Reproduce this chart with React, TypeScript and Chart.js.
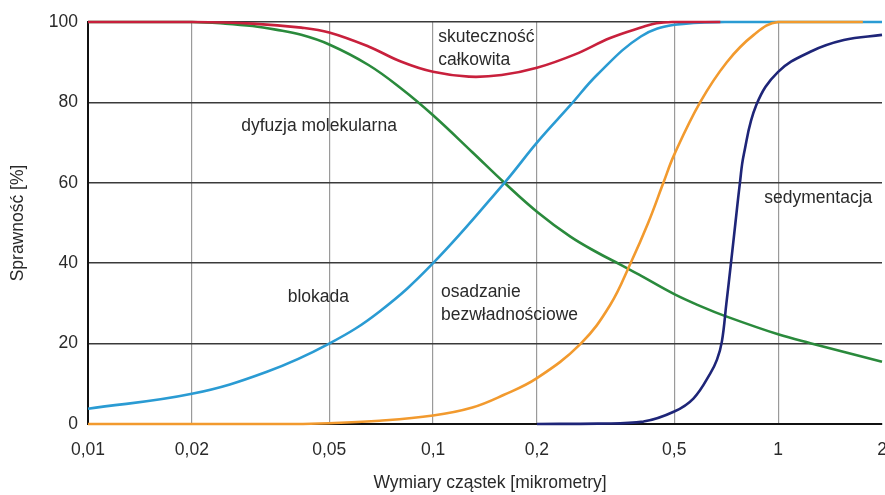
import React, { useEffect, useRef } from "react";
import { Chart, registerables } from "chart.js";

Chart.register(...registerables);

// ---- data ----
const xTicks = [0.01, 0.02, 0.05, 0.1, 0.2, 0.5, 1, 2];
const xTickLabels = ["0,01", "0,02", "0,05", "0,1", "0,2", "0,5", "1", "2"];
const yTicks = [0, 20, 40, 60, 80, 100];
const xTitle = "Wymiary cząstek [mikrometry]";
const yTitle = "Sprawność [%]";

const totalX = [0.01, 0.02, 0.03, 0.0415, 0.05, 0.065, 0.081, 0.1, 0.127, 0.158, 0.2, 0.259, 0.326, 0.407, 0.444, 0.5, 0.68];
const totalY = [100, 100, 99.6, 98.6, 97.4, 93.9, 90.1, 87.6, 86.4, 86.8, 88.6, 92, 96, 98.8, 99.7, 100, 100];

const diffusionX = [0.01, 0.02, 0.025, 0.03, 0.035, 0.0415, 0.05, 0.065, 0.081, 0.1, 0.13, 0.161, 0.2, 0.25, 0.3, 0.35, 0.4, 0.5, 0.6, 0.7, 1, 1.24, 2];
const diffusionY = [100, 100, 99.6, 99, 98.1, 96.8, 94.4, 89.3, 83.4, 76.8, 67.6, 60, 52.8, 46.6, 42.6, 39.6, 36.9, 32.3, 29.2, 26.9, 22.3, 20.1, 15.5];

const blockX = [0.01, 0.02, 0.033, 0.05, 0.07, 0.1, 0.161, 0.2, 0.25, 0.3, 0.4, 0.5, 0.7, 2];
const blockY = [3.8, 7.5, 13, 20, 28, 40, 60, 70, 79.3, 87, 96.4, 99.3, 100, 100];

const inertialX = [0.01, 0.04, 0.05, 0.07, 0.1, 0.13, 0.16, 0.2, 0.268, 0.326, 0.3736, 0.42, 0.465, 0.5, 0.594, 0.71, 0.85, 1, 1.76];
const inertialY = [0, 0, 0.2, 0.8, 2.1, 4.1, 7.2, 11.4, 20, 29.6, 40, 50, 60, 67, 80, 90, 96.8, 100, 100];

const sedimentX = [0.2, 0.3, 0.407, 0.5, 0.569, 0.636, 0.665, 0.687, 0.708, 0.73, 0.752, 0.775, 0.795, 0.865, 1, 1.24, 1.55, 2];
const sedimentY = [0, 0.1, 0.6, 3.1, 6.4, 12.6, 16, 20.5, 30, 40, 50, 60, 67, 79.4, 87.6, 92.6, 95.5, 96.8];

const labelTexts = ["skuteczność", "całkowita", "dyfuzja molekularna", "blokada", "osadzanie", "bezwładnościowe", "sedymentacja"];
const labelX = [0.1035, 0.1035, 0.0278, 0.0379, 0.1054, 0.1054, 0.912];
const labelY = [96.3, 90.5, 74, 31.6, 32.8, 27, 56.2];

const FONT = "'Liberation Sans', Arial, Helvetica, sans-serif";
const FONT_SIZE = 17.5;
const TEXT_COLOR = "#2a2a2a";

const pts = (xs: number[], ys: number[]) => xs.map((x, i) => ({ x, y: ys[i] }));

const annotationPlugin = {
  id: "annotations",
  afterDatasetsDraw(chart: any) {
    const { ctx, scales } = chart;
    ctx.save();
    ctx.font = `${FONT_SIZE}px ${FONT}`;
    ctx.fillStyle = TEXT_COLOR;
    ctx.textAlign = "left";
    ctx.textBaseline = "middle";
    labelTexts.forEach((t, i) => {
      ctx.fillText(t, scales.x.getPixelForValue(labelX[i]), scales.y.getPixelForValue(labelY[i]));
    });
    // x axis title, slightly right of the plot centre as in the source
    ctx.textAlign = "center";
    ctx.fillText(xTitle, (chart.chartArea.left + chart.chartArea.right) / 2 + 5, chart.height - 12);
    ctx.restore();
  },
};

export default function App() {
  const ref = useRef<HTMLCanvasElement | null>(null);
  useEffect(() => {
    if (!ref.current) return;
    const line = (data: any[], color: string) => ({
      data,
      borderColor: color,
      backgroundColor: color,
      borderWidth: 2.6,
      pointRadius: 0,
      fill: false,
      tension: 0.4,
      clip: false as const,
    });
    const chart = new Chart(ref.current, {
      type: "line",
      data: {
        datasets: [
          line(pts(totalX, totalY), "#c8203c"),
          line(pts(inertialX, inertialY), "#f29a2e"),
          line(pts(blockX, blockY), "#2a9bd3"),
          line(pts(sedimentX, sedimentY), "#1e2578"),
          line(pts(diffusionX, diffusionY), "#2a8a3c"),
        ],
      },
      options: {
        animation: false,
        responsive: true,
        maintainAspectRatio: false,
        layout: { padding: { top: 22, right: 0, left: 0, bottom: 0 } },
        plugins: { legend: { display: false }, tooltip: { enabled: false } },
        scales: {
          x: {
            type: "logarithmic",
            min: 0.01,
            max: 2,
            afterBuildTicks: (s: any) => {
              s.ticks = xTicks.map((v) => ({ value: v }));
            },
            afterFit: (s: any) => {
              s.height = 71;
              s.paddingLeft = 0;
              s.paddingRight = 3;
            },
            ticks: {
              autoSkip: false,
              maxRotation: 0,
              padding: 2,
              color: TEXT_COLOR,
              font: { family: FONT, size: FONT_SIZE },
              callback: (v: any) => {
                const i = xTicks.findIndex((t) => Math.abs(t - Number(v)) < 1e-9);
                return i >= 0 ? xTickLabels[i] : "";
              },
            },
            grid: {
              drawTicks: true,
              tickLength: 14,
              tickColor: "rgba(0,0,0,0)",
              color: (c: any) => {
                const v = c.tick ? c.tick.value : 0;
                return v <= 0.01 || v >= 2 ? "rgba(0,0,0,0)" : "#9a9a9a";
              },
              lineWidth: 1.2,
            },
            border: { display: true, color: "#111", width: 2 },
            title: { display: false },
          },
          y: {
            min: 0,
            max: 100,
            afterBuildTicks: (s: any) => {
              s.ticks = yTicks.map((v) => ({ value: v }));
            },
            afterFit: (s: any) => {
              s.width = 88;
            },
            ticks: {
              padding: 10,
              color: TEXT_COLOR,
              font: { family: FONT, size: FONT_SIZE },
            },
            grid: {
              drawTicks: false,
              color: "#3a3a3a",
              lineWidth: 1.6,
            },
            border: { display: true, color: "#111", width: 2 },
            title: {
              display: true,
              text: yTitle,
              color: TEXT_COLOR,
              font: { family: FONT, size: FONT_SIZE },
              padding: { top: 7.5, bottom: 0 },
            },
          },
        },
      },
      plugins: [annotationPlugin],
    });
    return () => chart.destroy();
  }, []);
  return (
    <div style={{ position: "fixed", left: 0, top: 0, width: 885, height: 495, background: "#fff" }}>
      <canvas ref={ref} />
    </div>
  );
}
